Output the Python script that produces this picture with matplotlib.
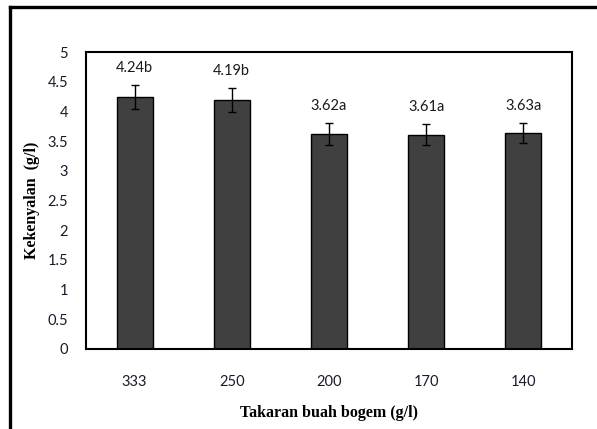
import matplotlib
matplotlib.use("Agg")
import matplotlib.pyplot as plt
from matplotlib.lines import Line2D

# Data
categories = ["333", "250", "200", "170", "140"]
values = [4.24, 4.19, 3.62, 3.61, 3.63]
errors = [0.20, 0.20, 0.18, 0.17, 0.17]
labels = ["4.24b", "4.19b", "3.62a", "3.61a", "3.63a"]
yticks = [0, 0.5, 1, 1.5, 2, 2.5, 3, 3.5, 4, 4.5, 5]
ytick_labels = ["0", "0.5", "1", "1.5", "2", "2.5", "3", "3.5", "4", "4.5", "5"]

tick_font = "Lato"
title_font = "Liberation Serif"

fig = plt.figure(figsize=(5.97, 4.29), dpi=100)

# Outer frame (left and top edges)
fig.add_artist(Line2D([10 / 597, 10 / 597], [0, 1 - 7 / 429], transform=fig.transFigure,
                      color="black", lw=2.4, solid_capstyle="projecting"))
fig.add_artist(Line2D([10 / 597, 1], [1 - 7 / 429, 1 - 7 / 429], transform=fig.transFigure,
                      color="black", lw=2.4, solid_capstyle="projecting"))

ax = fig.add_axes([86 / 597, 80 / 429, (572 - 86) / 597, (349 - 52) / 429])
x = list(range(len(categories)))
ax.bar(x, values, width=0.37, color="#404040", edgecolor="black", linewidth=1.0, zorder=2)
ax.errorbar(x, values, yerr=errors, fmt="none", ecolor="black", elinewidth=1.0,
            capsize=3, capthick=1.0, zorder=3)

for xi, v, e, lab in zip(x, values, errors, labels):
    ax.text(xi, v + e + 0.29, lab, ha="center", va="center", fontsize=10.5,
            family=tick_font, color="#1a1a1a")

ax.set_xlim(-0.5, len(categories) - 0.5)
ax.set_ylim(0, 5)
ax.set_yticks(yticks)
ax.set_yticklabels(ytick_labels, family=tick_font, fontsize=10.5, color="#1a1a2a")
ax.set_xticks(x)
ax.set_xticklabels(categories, family=tick_font, fontsize=10.5, color="#1a1a2a")
ax.tick_params(axis="both", length=0)
ax.tick_params(axis="y", pad=13)
ax.tick_params(axis="x", pad=19)

for s in ax.spines.values():
    s.set_linewidth(1.5)
    s.set_color("black")

ax.set_xlabel("Takaran buah bogem (g/l)", family=title_font, fontweight="bold",
              fontsize=11.5, labelpad=11)
ax.set_ylabel("Kekenyalan  (g/l)", family=title_font, fontweight="bold",
              fontsize=11.5, labelpad=5)

fig.savefig("out.png", dpi=100)
